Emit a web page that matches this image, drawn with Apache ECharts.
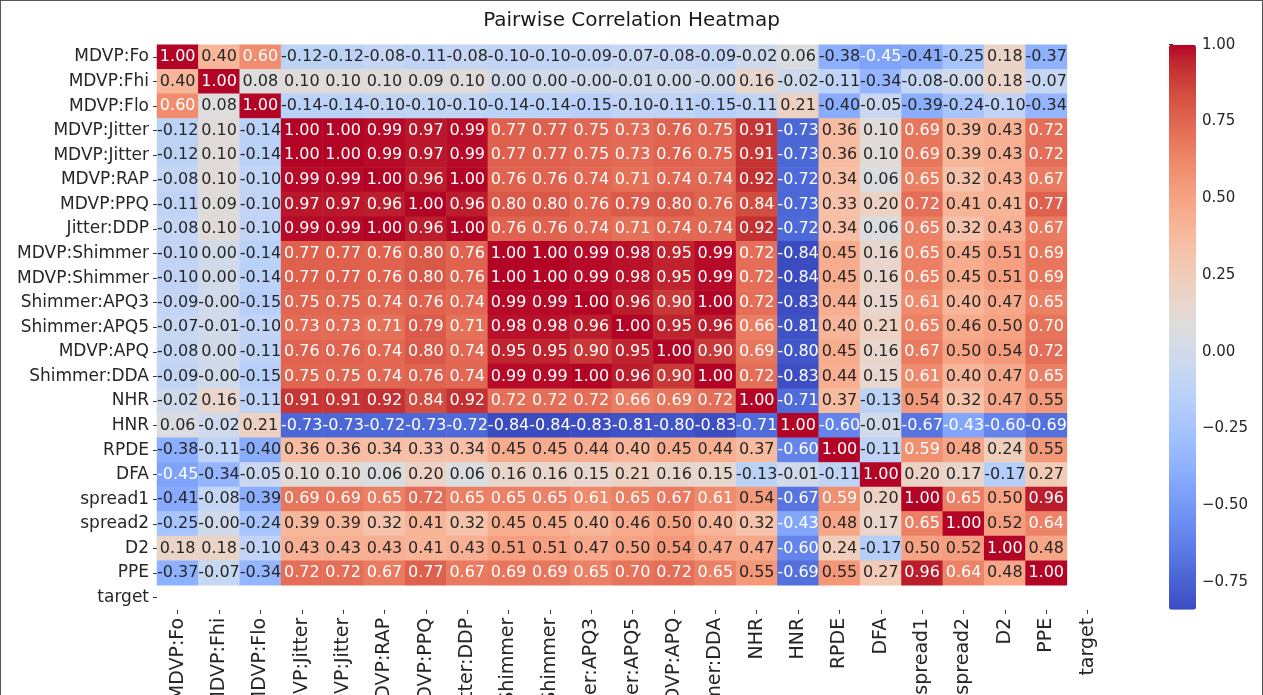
<!DOCTYPE html>
<html>
<head>
<meta charset="utf-8">
<script src="https://cdn.jsdelivr.net/npm/echarts@6/dist/echarts.min.js"></script>
<style>
  html, body { margin: 0; padding: 0; background: #fff; }
  #frame { position: absolute; left: 0; top: 0; width: 1263px; height: 695px; box-sizing: border-box;
           border-left: 1px solid #555; border-top: 1px solid #555; border-right: 1px solid #555; }
  #chart { position: absolute; left: 0; top: 0; width: 1263px; height: 695px; }
</style>
</head>
<body>
<div id="chart"></div>
<div id="frame"></div>
<script>
// Row / column labels (as printed; x labels are the same list)
const labels = ['MDVP:Fo', 'MDVP:Fhi', 'MDVP:Flo', 'MDVP:Jitter', 'MDVP:Jitter', 'MDVP:RAP', 'MDVP:PPQ',
  'Jitter:DDP', 'MDVP:Shimmer', 'MDVP:Shimmer', 'Shimmer:APQ3', 'Shimmer:APQ5', 'MDVP:APQ',
  'Shimmer:DDA', 'NHR', 'HNR', 'RPDE', 'DFA', 'spread1', 'spread2', 'D2', 'PPE', 'target'];

// Correlation values (target row/column are empty)
// -0.004 stands for the printed "-0.00"
const rowFo      = [1.00, 0.40, 0.60, -0.12, -0.12, -0.08, -0.11, -0.08, -0.10, -0.10, -0.09, -0.07, -0.08, -0.09, -0.02, 0.06, -0.38, -0.45, -0.41, -0.25, 0.18, -0.37];
const rowFhi     = [0.40, 1.00, 0.08, 0.10, 0.10, 0.10, 0.09, 0.10, 0.00, 0.00, -0.004, -0.01, 0.00, -0.004, 0.16, -0.02, -0.11, -0.34, -0.08, -0.004, 0.18, -0.07];
const rowFlo     = [0.60, 0.08, 1.00, -0.14, -0.14, -0.10, -0.10, -0.10, -0.14, -0.14, -0.15, -0.10, -0.11, -0.15, -0.11, 0.21, -0.40, -0.05, -0.39, -0.24, -0.10, -0.34];
const rowJitter  = [-0.12, 0.10, -0.14, 1.00, 1.00, 0.99, 0.97, 0.99, 0.77, 0.77, 0.75, 0.73, 0.76, 0.75, 0.91, -0.73, 0.36, 0.10, 0.69, 0.39, 0.43, 0.72];
const rowJitter2 = [-0.12, 0.10, -0.14, 1.00, 1.00, 0.99, 0.97, 0.99, 0.77, 0.77, 0.75, 0.73, 0.76, 0.75, 0.91, -0.73, 0.36, 0.10, 0.69, 0.39, 0.43, 0.72];
const rowRAP     = [-0.08, 0.10, -0.10, 0.99, 0.99, 1.00, 0.96, 1.00, 0.76, 0.76, 0.74, 0.71, 0.74, 0.74, 0.92, -0.72, 0.34, 0.06, 0.65, 0.32, 0.43, 0.67];
const rowPPQ     = [-0.11, 0.09, -0.10, 0.97, 0.97, 0.96, 1.00, 0.96, 0.80, 0.80, 0.76, 0.79, 0.80, 0.76, 0.84, -0.73, 0.33, 0.20, 0.72, 0.41, 0.41, 0.77];
const rowDDP     = [-0.08, 0.10, -0.10, 0.99, 0.99, 1.00, 0.96, 1.00, 0.76, 0.76, 0.74, 0.71, 0.74, 0.74, 0.92, -0.72, 0.34, 0.06, 0.65, 0.32, 0.43, 0.67];
const rowShim    = [-0.10, 0.00, -0.14, 0.77, 0.77, 0.76, 0.80, 0.76, 1.00, 1.00, 0.99, 0.98, 0.95, 0.99, 0.72, -0.84, 0.45, 0.16, 0.65, 0.45, 0.51, 0.69];
const rowShim2   = [-0.10, 0.00, -0.14, 0.77, 0.77, 0.76, 0.80, 0.76, 1.00, 1.00, 0.99, 0.98, 0.95, 0.99, 0.72, -0.84, 0.45, 0.16, 0.65, 0.45, 0.51, 0.69];
const rowAPQ3    = [-0.09, -0.004, -0.15, 0.75, 0.75, 0.74, 0.76, 0.74, 0.99, 0.99, 1.00, 0.96, 0.90, 1.00, 0.72, -0.83, 0.44, 0.15, 0.61, 0.40, 0.47, 0.65];
const rowAPQ5    = [-0.07, -0.01, -0.10, 0.73, 0.73, 0.71, 0.79, 0.71, 0.98, 0.98, 0.96, 1.00, 0.95, 0.96, 0.66, -0.81, 0.40, 0.21, 0.65, 0.46, 0.50, 0.70];
const rowAPQ     = [-0.08, 0.00, -0.11, 0.76, 0.76, 0.74, 0.80, 0.74, 0.95, 0.95, 0.90, 0.95, 1.00, 0.90, 0.69, -0.80, 0.45, 0.16, 0.67, 0.50, 0.54, 0.72];
const rowDDA     = [-0.09, -0.004, -0.15, 0.75, 0.75, 0.74, 0.76, 0.74, 0.99, 0.99, 1.00, 0.96, 0.90, 1.00, 0.72, -0.83, 0.44, 0.15, 0.61, 0.40, 0.47, 0.65];
const rowNHR     = [-0.02, 0.16, -0.11, 0.91, 0.91, 0.92, 0.84, 0.92, 0.72, 0.72, 0.72, 0.66, 0.69, 0.72, 1.00, -0.71, 0.37, -0.13, 0.54, 0.32, 0.47, 0.55];
const rowHNR     = [0.06, -0.02, 0.21, -0.73, -0.73, -0.72, -0.73, -0.72, -0.84, -0.84, -0.83, -0.81, -0.80, -0.83, -0.71, 1.00, -0.60, -0.01, -0.67, -0.43, -0.60, -0.69];
const rowRPDE    = [-0.38, -0.11, -0.40, 0.36, 0.36, 0.34, 0.33, 0.34, 0.45, 0.45, 0.44, 0.40, 0.45, 0.44, 0.37, -0.60, 1.00, -0.11, 0.59, 0.48, 0.24, 0.55];
const rowDFA     = [-0.45, -0.34, -0.05, 0.10, 0.10, 0.06, 0.20, 0.06, 0.16, 0.16, 0.15, 0.21, 0.16, 0.15, -0.13, -0.01, -0.11, 1.00, 0.20, 0.17, -0.17, 0.27];
const rowSpread1 = [-0.41, -0.08, -0.39, 0.69, 0.69, 0.65, 0.72, 0.65, 0.65, 0.65, 0.61, 0.65, 0.67, 0.61, 0.54, -0.67, 0.59, 0.20, 1.00, 0.65, 0.50, 0.96];
const rowSpread2 = [-0.25, -0.004, -0.24, 0.39, 0.39, 0.32, 0.41, 0.32, 0.45, 0.45, 0.40, 0.46, 0.50, 0.40, 0.32, -0.43, 0.48, 0.17, 0.65, 1.00, 0.52, 0.64];
const rowD2      = [0.18, 0.18, -0.10, 0.43, 0.43, 0.43, 0.41, 0.43, 0.51, 0.51, 0.47, 0.50, 0.54, 0.47, 0.47, -0.60, 0.24, -0.17, 0.50, 0.52, 1.00, 0.48];
const rowPPE     = [-0.37, -0.07, -0.34, 0.72, 0.72, 0.67, 0.77, 0.67, 0.69, 0.69, 0.65, 0.70, 0.72, 0.65, 0.55, -0.69, 0.55, 0.27, 0.96, 0.64, 0.48, 1.00];

const matrixRows = [rowFo, rowFhi, rowFlo, rowJitter, rowJitter2, rowRAP, rowPPQ, rowDDP, rowShim, rowShim2,
  rowAPQ3, rowAPQ5, rowAPQ, rowDDA, rowNHR, rowHNR, rowRPDE, rowDFA, rowSpread1, rowSpread2, rowD2, rowPPE];

const colorbarTicks = [-0.75, -0.50, -0.25, 0.00, 0.25, 0.50, 0.75, 1.00];
const vmin = -0.84, vmax = 1.00;

// coolwarm colormap stops
const coolwarm = [
  [59,76,192],[68,90,204],[77,104,215],[87,117,225],[98,130,234],[108,142,241],[119,154,247],[130,165,251],
  [141,176,254],[152,185,255],[163,194,255],[174,201,253],[184,208,249],[194,213,244],[204,217,238],[213,219,230],
  [221,221,221],[229,216,209],[236,211,197],[241,204,185],[245,196,173],[247,187,160],[247,177,148],[247,166,135],
  [244,154,123],[241,141,111],[236,127,99],[229,112,88],[222,96,77],[213,80,66],[203,62,56],[192,40,47],[180,4,38]
];
const toHex = c => '#' + c.map(v => Math.round(v).toString(16).padStart(2, '0')).join('');
const cmapColors = coolwarm.map(toHex);

function cmapRGB(v) {
  let t = (v - vmin) / (vmax - vmin);
  t = Math.max(0, Math.min(1, t));
  const p = t * (coolwarm.length - 1);
  const i = Math.min(Math.floor(p), coolwarm.length - 2);
  const f = p - i;
  return [0, 1, 2].map(k => coolwarm[i][k] + (coolwarm[i + 1][k] - coolwarm[i][k]) * f);
}
function luminance(rgb) {
  const lin = rgb.map(c => { c /= 255; return c <= 0.03928 ? c / 12.92 : Math.pow((c + 0.055) / 1.055, 2.4); });
  return 0.2126 * lin[0] + 0.7152 * lin[1] + 0.0722 * lin[2];
}

const heatData = [];
matrixRows.forEach((row, yi) => {
  row.forEach((v, xi) => {
    const lum = luminance(cmapRGB(v));
    heatData.push({ value: [xi, yi, v], label: { color: lum > 0.408 ? '#262626' : '#ffffff' } });
  });
});

const fmtTick = v => (v < 0 ? '\u2212' : '') + Math.abs(v).toFixed(2);

const FONT = 'DejaVu Sans';
const gridLeft = 157, gridTop = 44.7, cellW = 41.36, cellH = 24.57;
const nCat = labels.length;

const chart = echarts.init(document.getElementById('chart'), null, { renderer: 'canvas' });
chart.setOption({
  animation: false,
  backgroundColor: '#ffffff',
  title: {
    text: 'Pairwise Correlation Heatmap',
    left: 'center', top: 6,
    textStyle: { fontFamily: FONT, fontSize: 20, fontWeight: 'normal', color: '#1a1a1a' }
  },
  grid: [
    { left: gridLeft, top: gridTop, width: cellW * nCat, height: cellH * nCat, outerBoundsMode: 'none', containLabel: false },
    { left: 1169, top: gridTop, width: 27, height: cellH * nCat, outerBoundsMode: 'none', containLabel: false }
  ],
  xAxis: [
    {
      type: 'category', data: labels, gridIndex: 0, position: 'bottom',
      axisLine: { show: false }, splitLine: { show: false },
      axisTick: { show: true, alignWithLabel: true, length: 4, lineStyle: { color: '#333' } },
      axisLabel: { rotate: 90, interval: 0, margin: 8, fontFamily: FONT, fontSize: 19, color: '#262626' }
    },
    { type: 'value', gridIndex: 1, show: false, min: 0, max: 1 }
  ],
  yAxis: [
    {
      type: 'category', data: labels, gridIndex: 0, inverse: true,
      axisLine: { show: false }, splitLine: { show: false },
      axisTick: { show: true, alignWithLabel: true, length: 4, lineStyle: { color: '#333' } },
      axisLabel: { interval: 0, margin: 8, fontFamily: FONT, fontSize: 17, color: '#262626' }
    },
    {
      type: 'value', gridIndex: 1, position: 'right', min: vmin, max: vmax,
      axisLine: { show: false }, splitLine: { show: false },
      axisTick: { show: true, length: 4, customValues: colorbarTicks, lineStyle: { color: '#333' } },
      axisLabel: { show: true, margin: 6, customValues: colorbarTicks, formatter: fmtTick,
                   fontFamily: FONT, fontSize: 15, color: '#262626' }
    }
  ],
  visualMap: {
    type: 'continuous', min: vmin, max: vmax, seriesIndex: 0,
    calculable: false, realtime: false, show: true,
    orient: 'vertical', left: 1169, top: gridTop, padding: 0,
    itemWidth: 27, itemHeight: cellH * nCat, text: null, showLabel: false,
    inRange: { color: cmapColors }
  },
  series: [
    {
      type: 'heatmap', xAxisIndex: 0, yAxisIndex: 0, data: heatData,
      itemStyle: { borderWidth: 0 },
      label: {
        show: true, fontFamily: FONT, fontSize: 16,
        formatter: p => p.value[2].toFixed(2)
      },
      emphasis: { disabled: true }
    },
    { type: 'scatter', xAxisIndex: 1, yAxisIndex: 1, data: [], silent: true }
  ]
});
</script>
</body>
</html>
